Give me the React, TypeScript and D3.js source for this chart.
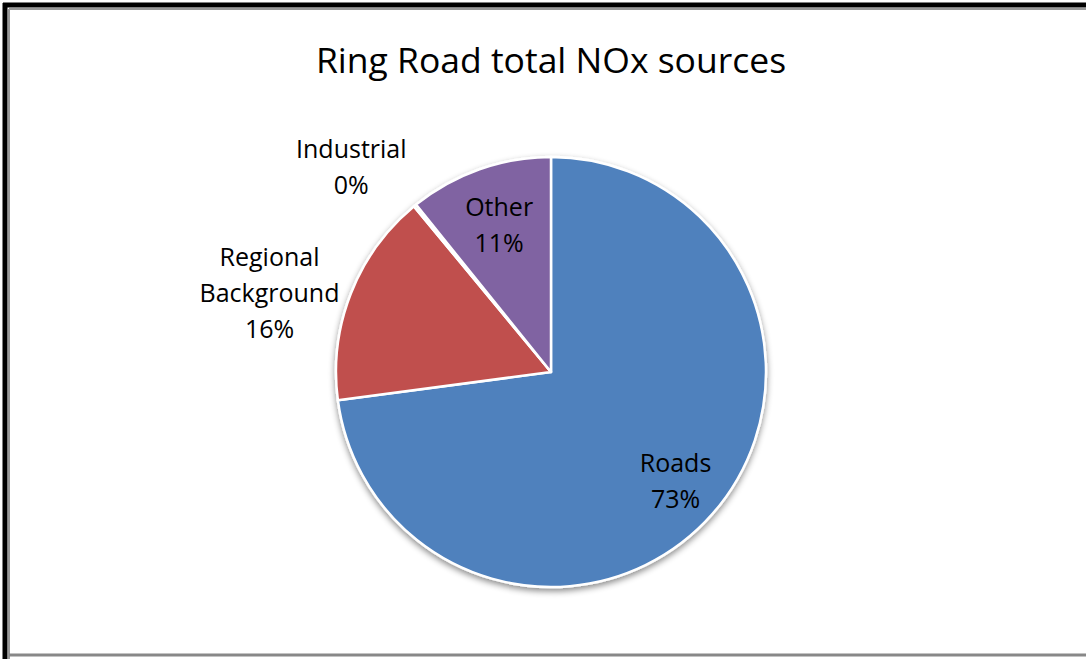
import React from "react";
import * as d3 from "d3";

const categories = ["Roads", "Regional Background", "Industrial", "Other"];
const values = [72.9, 16.1, 0.2, 10.8];
const labelLines = [["Roads", "73%"], ["Regional", "Background", "16%"], ["Industrial", "0%"], ["Other", "11%"]];
const colors = ["#4F81BD", "#C0504D", "#9BBB59", "#8064A2"];
const title = "Ring Road total NOx sources";

const W = 1086;
const H = 659;
const cx = 551;
const cy = 372;
const R = 215;
// label placement: inside labels use centroid factor; outside labels use polar angle (deg) + radius
const labelPlacement = [
  { kind: "in", k: 0.77 },
  { kind: "out", angle: 285.7, k: 1.36 },
  { kind: "out", angle: 315.7, k: 1.33 },
  { kind: "in", k: 0.725 },
];

export default function App() {
  const pie = d3.pie<number>().sort(null).value((d) => d)(values);
  const arc = d3.arc<d3.PieArcDatum<number>>().innerRadius(0).outerRadius(R);
  const font = "'Open Sans', sans-serif";
  const fs = 25;
  const lh = 36;
  return (
    <div style={{ position: "fixed", left: 0, top: 0 }}>
      <svg width={W} height={H} style={{ display: "block" }}>
        <defs>
          <filter id="sh" x="-20%" y="-20%" width="140%" height="140%">
            <feDropShadow dx="0" dy="3" stdDeviation="3" floodColor="#000" floodOpacity="0.45" />
          </filter>
        </defs>
        <rect x={0} y={0} width={W} height={H} fill="#fff" />
        {/* frame */}
        <line x1={5} y1={3} x2={5} y2={H} stroke="#000" strokeWidth={5} />
        <line x1={3} y1={5} x2={W} y2={5} stroke="#000" strokeWidth={5} />
        <line x1={9} y1={9} x2={W} y2={9} stroke="#999" strokeWidth={2} />
        <line x1={9} y1={9} x2={9} y2={H} stroke="#999" strokeWidth={2} />
        <line x1={9} y1={655} x2={W} y2={655} stroke="#888" strokeWidth={3} />
        <text x={cx} y={73} textAnchor="middle" fontFamily={font} fontSize={35.5} fill="#000">
          {title}
        </text>
        <g transform={`translate(${cx},${cy})`}>
          <g filter="url(#sh)">
            {pie.map((p, i) => (
              <path key={categories[i]} d={arc(p) || ""} fill={colors[i]} stroke="#fff" strokeWidth={2.5} strokeLinejoin="round" />
            ))}
          </g>
          {pie.map((p, i) => {
            const pl = labelPlacement[i];
            let x: number, y: number;
            if (pl.kind === "in") {
              const a = (p.startAngle + p.endAngle) / 2;
              x = Math.sin(a) * R * pl.k;
              y = -Math.cos(a) * R * pl.k;
            } else {
              const a = ((pl.angle as number) * Math.PI) / 180;
              x = Math.sin(a) * R * pl.k;
              y = -Math.cos(a) * R * pl.k;
            }
            const lines = labelLines[i];
            const y0 = y - ((lines.length - 1) * lh) / 2;
            return (
              <text key={"l" + i} textAnchor="middle" fontFamily={font} fontSize={fs} fill="#000">
                {lines.map((t, j) => (
                  <tspan key={j} x={x} y={y0 + j * lh} dy="0.35em">
                    {t}
                  </tspan>
                ))}
              </text>
            );
          })}
        </g>
      </svg>
    </div>
  );
}
